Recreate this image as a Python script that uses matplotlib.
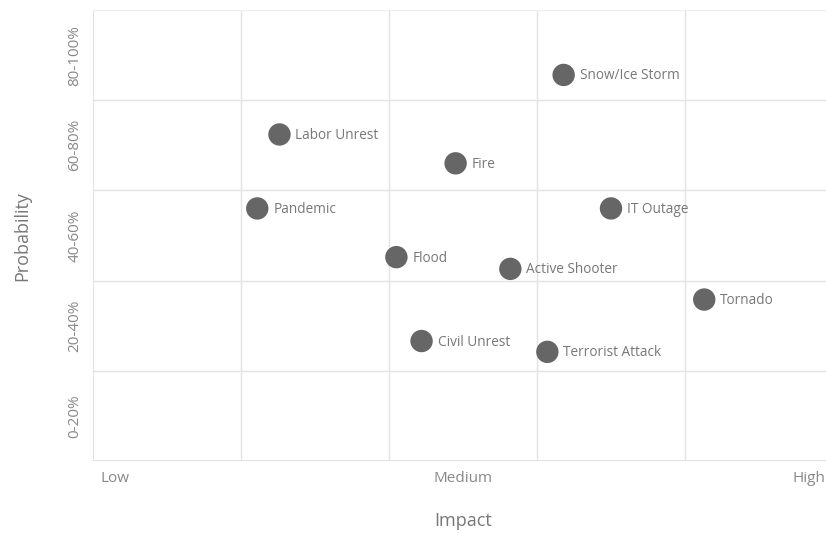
import matplotlib
matplotlib.use("Agg")
import matplotlib.pyplot as plt

names = ["Snow/Ice Storm", "Labor Unrest", "Fire", "Pandemic", "IT Outage",
         "Flood", "Active Shooter", "Tornado", "Civil Unrest", "Terrorist Attack"]
impact = [3.18, 1.26, 2.45, 1.11, 3.50, 2.05, 2.82, 4.13, 2.22, 3.07]
probability = [4.28, 3.62, 3.30, 2.80, 2.80, 2.26, 2.13, 1.79, 1.33, 1.21]
y_labels = ["0-20%", "20-40%", "40-60%", "60-80%", "80-100%"]
x_labels = ["Low", "Medium", "High"]

plt.rcParams['font.family'] = ['Open Sans', 'DejaVu Sans']
W, H = 826, 533
fig = plt.figure(figsize=(W/100, H/100), dpi=100)
ax = fig.add_axes([93/W, (H-461)/H, 740/W, 451/H])
ax.set_xlim(0, 5)
ax.set_ylim(0, 5)

grid_c = "#e3e3e3"
for v in range(1, 5):
    ax.axvline(v, color=grid_c, lw=1, zorder=0)
    ax.axhline(v, color=grid_c, lw=1, zorder=0)
for s in ax.spines.values():
    s.set_visible(False)
ax.axvline(0, color="#dcdcdc", lw=1.2, zorder=0)
ax.axhline(0, color="#dcdcdc", lw=1.2, zorder=0)
ax.axhline(5, color="#eeeeee", lw=1, zorder=0)

ax.scatter(impact, probability, s=260, color="#666666", zorder=3, edgecolors="none")
for n, x, y in zip(names, impact, probability):
    ax.annotate(n, (x, y), xytext=(16, -1), textcoords="offset pixels",
                ha="left", va="center", fontsize=9.8, color="#777777")

ax.set_xticks([])
ax.set_yticks([])
yt = [0.5 + i for i in range(5)]
for t, lab in zip(yt, y_labels):
    ax.text(-18/148, t, lab, rotation=90, ha="center", va="center",
            fontsize=11, color="#888888", transform=ax.transData, clip_on=False)

trans = ax.get_xaxis_transform()
ax.text(0.05, -0.038, x_labels[0], ha="left", va="center", fontsize=11, color="#888888", transform=trans)
ax.text(2.5, -0.038, x_labels[1], ha="center", va="center", fontsize=11, color="#888888", transform=trans)
ax.text(4.95, -0.038, x_labels[2], ha="right", va="center", fontsize=11, color="#888888", transform=trans)

fig.text(463/W, 1 - 521/H, "Impact", ha="center", va="center", fontsize=13, color="#777777")
fig.text(22/W, 1 - 236/H, "Probability", ha="center", va="center", rotation=90, fontsize=13, color="#777777")

fig.savefig("out.png", dpi=100, facecolor="white")
